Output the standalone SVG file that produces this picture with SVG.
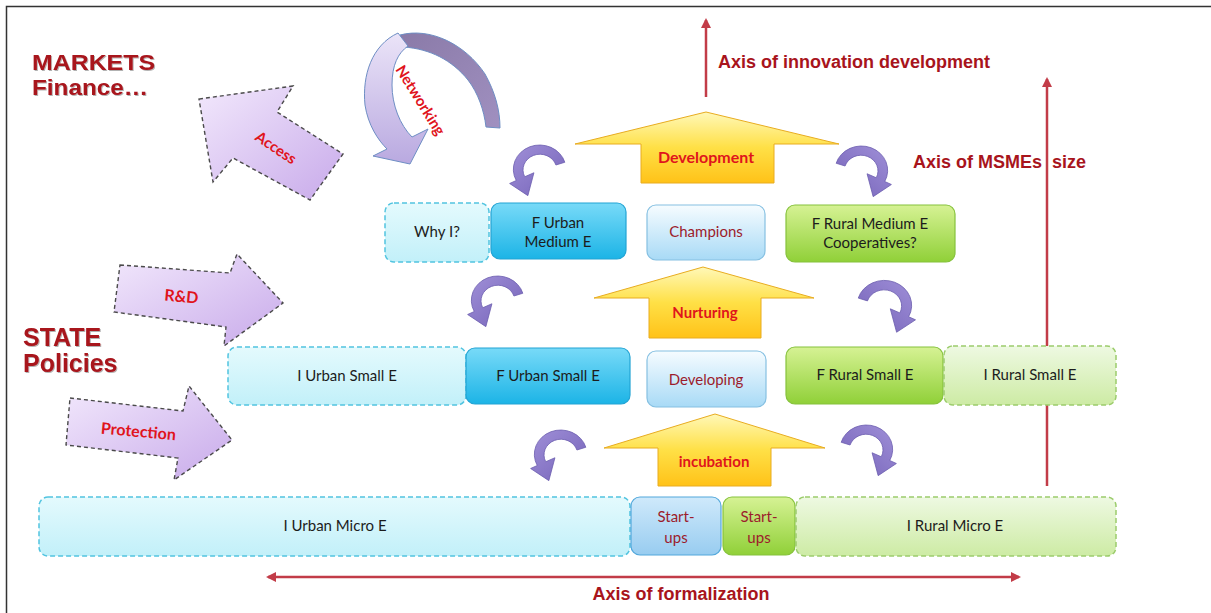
<svg xmlns="http://www.w3.org/2000/svg" width="1211" height="613" viewBox="0 0 1211 613">
<defs>
<style>
.head{font-family:"Liberation Sans",Arial,sans-serif;font-weight:bold;fill:#a8141c;}
.axis{font-family:"Liberation Sans",Arial,sans-serif;font-weight:bold;font-size:18px;fill:#a8141c;}
.lbl{font-family:Lato,"Open Sans",sans-serif;font-weight:bold;fill:#e0141c;text-anchor:middle;}
.box{font-family:Lato,"Open Sans",sans-serif;font-size:15px;fill:#1c1c1c;text-anchor:middle;}
.boxr{font-family:Lato,"Open Sans",sans-serif;font-size:15px;fill:#9c1c2c;text-anchor:middle;}
.axl{stroke:#c23c48;stroke-width:2.5;fill:none;}
.dashc{fill:url(#gCyanLight);stroke:#52c4e0;stroke-width:1.5;stroke-dasharray:5 3;}
.cyan{fill:url(#gCyan);stroke:#22a4d4;stroke-width:1.2;}
.pale{fill:url(#gPale);stroke:#86c0e2;stroke-width:1.2;}
.green{fill:url(#gGreen);stroke:#86c23c;stroke-width:1.2;}
.dashg{fill:url(#gGreenLight);stroke:#9ccc6c;stroke-width:1.5;stroke-dasharray:5 3;}
.yel{fill:url(#gYellow);stroke:#e8ac20;stroke-width:1;}
.pur{fill:url(#gPurple);stroke:#4a4a4a;stroke-width:1.4;stroke-dasharray:4 3;}
.curl{fill:url(#gCurl);stroke:#6a5cae;stroke-width:0.6;}
</style>
<linearGradient id="gCyanLight" x1="0" y1="0" x2="0" y2="1"><stop offset="0" stop-color="#e4fafd"/><stop offset="1" stop-color="#c2f0f9"/></linearGradient>
<linearGradient id="gCyan" x1="0" y1="0" x2="0" y2="1"><stop offset="0" stop-color="#78daf8"/><stop offset="1" stop-color="#1cb4e6"/></linearGradient>
<linearGradient id="gPale" x1="0" y1="0" x2="0" y2="1"><stop offset="0" stop-color="#f6fcff"/><stop offset="1" stop-color="#a8daf6"/></linearGradient>
<linearGradient id="gBlueS" x1="0" y1="0" x2="0" y2="1"><stop offset="0" stop-color="#cfe9fb"/><stop offset="1" stop-color="#98ccf0"/></linearGradient>
<linearGradient id="gGreen" x1="0" y1="0" x2="0" y2="1"><stop offset="0" stop-color="#d6f294"/><stop offset="1" stop-color="#90d038"/></linearGradient>
<linearGradient id="gGreenLight" x1="0" y1="0" x2="0" y2="1"><stop offset="0" stop-color="#eef9e2"/><stop offset="1" stop-color="#cdeba4"/></linearGradient>
<linearGradient id="gYellow" x1="0" y1="0" x2="0" y2="1"><stop offset="0" stop-color="#fff8b8"/><stop offset="0.5" stop-color="#ffe046"/><stop offset="1" stop-color="#ffc218"/></linearGradient>
<linearGradient id="gPurple" x1="0" y1="0" x2="1" y2="1"><stop offset="0" stop-color="#f2e8fc"/><stop offset="1" stop-color="#c8aaea"/></linearGradient>
<linearGradient id="gCurl" x1="0" y1="0" x2="1" y2="1"><stop offset="0" stop-color="#a090d8"/><stop offset="1" stop-color="#7462b8"/></linearGradient>
<linearGradient id="gNetL" x1="0" y1="0" x2="0" y2="1"><stop offset="0" stop-color="#ebe4f8"/><stop offset="1" stop-color="#b9a9e0"/></linearGradient>
<linearGradient id="gNetD" x1="0" y1="0" x2="1" y2="1"><stop offset="0" stop-color="#8a7aa8"/><stop offset="1" stop-color="#a090c0"/></linearGradient>
<filter id="sh" x="-10%" y="-30%" width="120%" height="160%"><feDropShadow dx="1" dy="1" stdDeviation="0.7" flood-color="#000" flood-opacity="0.3"/></filter>
<marker id="ah" viewBox="0 0 10 10" refX="8" refY="5" markerWidth="4" markerHeight="4" orient="auto-start-reverse"><path d="M0,0 L10,5 L0,10 Z" fill="#c23c48"/></marker>
<path id="curl" d="M18.4,-6.2 A19.5 19.5 0 1 0 -17.6,8.4 L-22.5,10.8 L-9,20.5 L-4.5,2.2 L-11.3,5.4 A12.5 12.5 0 1 1 11.8,-4 Z"/>
</defs>

<rect width="1211" height="613" fill="#ffffff"/>
<path d="M6.5,613 V6.5 H1211" fill="none" stroke="#333" stroke-width="1.5"/>

<g id="headings">
<text class="head" x="32" y="70" font-size="22" textLength="123" lengthAdjust="spacingAndGlyphs" filter="url(#sh)">MARKETS</text>
<text class="head" x="32" y="95" font-size="22" textLength="116" lengthAdjust="spacingAndGlyphs" filter="url(#sh)">Finance…</text>
<text class="head" x="23" y="346" font-size="25" filter="url(#sh)">STATE</text>
<text class="head" x="23" y="372" font-size="25" filter="url(#sh)">Policies</text>
</g>

<g id="connectors">
<line class="axl" x1="706" y1="97" x2="706" y2="20" marker-end="url(#ah)"/>
<line class="axl" x1="1047" y1="486" x2="1047" y2="79" marker-end="url(#ah)"/>
<line class="axl" x1="268" y1="577" x2="1019" y2="577" marker-start="url(#ah)" marker-end="url(#ah)"/>
<use href="#curl" class="curl" transform="translate(540,170) scale(1.35,1.25)"/>
<use href="#curl" class="curl" transform="translate(861,171) scale(-1.35,1.25)"/>
<use href="#curl" class="curl" transform="translate(498,301) scale(1.35,1.25)"/>
<use href="#curl" class="curl" transform="translate(884,306) scale(-1.4,1.28)"/>
<use href="#curl" class="curl" transform="translate(561,455) scale(1.35,1.25)"/>
<use href="#curl" class="curl" transform="translate(866,450) scale(-1.35,1.25)"/>
</g>

<g id="axis-labels">
<text class="axis" x="718" y="68">Axis of innovation development</text>
<text class="axis" x="1042" y="168" text-anchor="end">Axis of MSMEs</text>
<text class="axis" x="1052" y="168">size</text>
<text class="axis" x="681" y="600" text-anchor="middle">Axis of formalization</text>
</g>

<g id="access">
<polygon class="pur" points="199,99 293,86 277,112 343,154 310,200 233,158 213,182"/>
<text class="lbl" font-size="15" transform="translate(273,152) rotate(34)">Access</text>
</g>

<g id="networking">
<path d="M400,35 C430,27 465,44 485,74 C495,92 500,110 500,128 L486,127 C484,110 478,93 468,80 C452,60 430,49 404,47 Z" fill="url(#gNetD)" stroke="#6e8ec4" stroke-width="1"/>
<path d="M398,33 C372,45 362,75 365,105 C368,125 378,140 387,149 L373,156 L410,164 L428,129 L412,137 C400,125 392,105 392,85 C392,65 398,53 408,46 Z" fill="url(#gNetL)" stroke="#6e8ec4" stroke-width="1"/>
<text class="lbl" font-size="15" transform="translate(416,103) rotate(58)">Networking</text>
</g>

<g id="rnd">
<polygon class="pur" points="120,265 230,273 237,254 283,303 224,346 226,327 114,312"/>
<text class="lbl" font-size="16" transform="translate(181,302) rotate(5)">R&amp;D</text>
</g>

<g id="protection">
<polygon class="pur" points="70,398 183,411 189,386 232,440 174,480 178,458 66,445"/>
<text class="lbl" font-size="16" transform="translate(138,437) rotate(5)">Protection</text>
</g>

<g id="development">
<polygon class="yel" points="706,112 839,144 774,144 774,183 641,183 641,144 575,144"/>
<text class="lbl" font-size="16" x="706" y="163">Development</text>
</g>
<g id="nurturing">
<polygon class="yel" points="703,267 814,298 761,298 761,338 649,338 649,298 594,298"/>
<text class="lbl" font-size="15" x="705" y="318">Nurturing</text>
</g>
<g id="incubation">
<polygon class="yel" points="715,414 825,448 771,448 771,486 658,486 658,448 604,448"/>
<text class="lbl" font-size="15" x="714" y="467">incubation</text>
</g>

<g id="why-i"><rect class="dashc" x="385" y="203" width="104" height="59" rx="9"/><text class="box" x="437" y="237">Why I?</text></g>
<g id="f-urban-medium"><rect class="cyan" x="491" y="203" width="135" height="56" rx="9"/><text class="box" x="558" y="228">F Urban</text><text class="box" x="558" y="247">Medium E</text></g>
<g id="champions"><rect class="pale" x="647" y="205" width="118" height="55" rx="9"/><text class="boxr" x="706" y="237">Champions</text></g>
<g id="f-rural-medium"><rect class="green" x="786" y="205" width="169" height="57" rx="9"/><text class="box" x="870" y="229">F Rural Medium E</text><text class="box" x="870" y="248">Cooperatives?</text></g>

<g id="i-urban-small"><rect class="dashc" x="228" y="347" width="238" height="58" rx="9"/><text class="box" x="347" y="381">I Urban Small E</text></g>
<g id="f-urban-small"><rect class="cyan" x="466" y="348" width="164" height="56" rx="9"/><text class="box" x="548" y="381">F Urban Small E</text></g>
<g id="developing"><rect class="pale" x="647" y="351" width="119" height="56" rx="9"/><text class="boxr" x="706" y="385">Developing</text></g>
<g id="f-rural-small"><rect class="green" x="786" y="347" width="157" height="57" rx="9"/><text class="box" x="865" y="380">F Rural Small E</text></g>
<g id="i-rural-small"><rect class="dashg" x="944" y="346" width="172" height="59" rx="9"/><text class="box" x="1030" y="380">I Rural Small E</text></g>

<g id="i-urban-micro"><rect class="dashc" x="39" y="497" width="591" height="59" rx="9"/><text class="box" x="335" y="531">I Urban Micro E</text></g>
<g id="startups-urban"><rect x="631" y="497" width="90" height="58" rx="9" fill="url(#gBlueS)" stroke="#52a8dc" stroke-width="1.2"/><text class="boxr" x="676" y="522">Start-</text><text class="boxr" x="676" y="543">ups</text></g>
<g id="startups-rural"><rect class="green" x="723" y="497" width="72" height="58" rx="9"/><text class="boxr" x="759" y="522">Start-</text><text class="boxr" x="759" y="543">ups</text></g>
<g id="i-rural-micro"><rect class="dashg" x="796" y="497" width="320" height="59" rx="9"/><text class="box" x="955" y="531">I Rural Micro E</text></g>
</svg>
